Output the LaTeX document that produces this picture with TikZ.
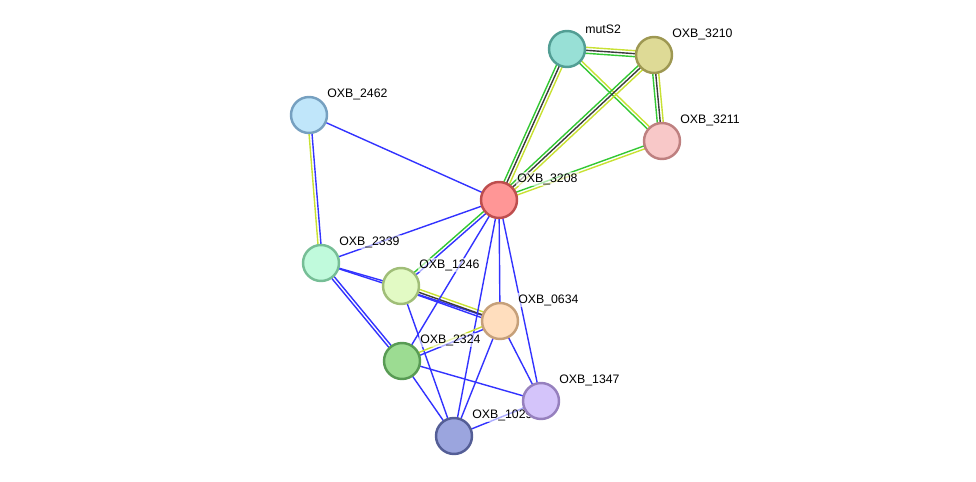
\documentclass[tikz,border=0pt]{standalone}
\usepackage{fontspec}
\setmainfont{Liberation Sans}
\usetikzlibrary{calc,backgrounds}

\definecolor{sblue}{RGB}{51,51,255}
\definecolor{sgreen}{RGB}{51,200,51}
\definecolor{syellow}{RGB}{200,225,50}
\definecolor{sgray}{RGB}{60,60,60}

\definecolor{cmut}{RGB}{152,224,214}   \definecolor{bmut}{RGB}{82,158,148}
\definecolor{c3210}{RGB}{222,218,150}  \definecolor{b3210}{RGB}{158,152,82}
\definecolor{c3211}{RGB}{248,200,200}  \definecolor{b3211}{RGB}{190,128,128}
\definecolor{c2462}{RGB}{192,230,250}  \definecolor{b2462}{RGB}{118,160,192}
\definecolor{c3208}{RGB}{255,150,150}  \definecolor{b3208}{RGB}{190,78,78}
\definecolor{c2339}{RGB}{192,250,220}  \definecolor{b2339}{RGB}{118,190,150}
\definecolor{c1246}{RGB}{226,250,196}  \definecolor{b1246}{RGB}{160,190,120}
\definecolor{c0634}{RGB}{255,222,190}  \definecolor{b0634}{RGB}{198,160,122}
\definecolor{c2324}{RGB}{156,220,146}  \definecolor{b2324}{RGB}{88,155,84}
\definecolor{c1347}{RGB}{212,196,250}  \definecolor{b1347}{RGB}{150,128,190}
\definecolor{c1029}{RGB}{155,165,222}  \definecolor{b1029}{RGB}{84,94,150}

\tikzset{
    prot/.style 2 args={circle, fill=#1, draw=#2, line width=1.4pt,
        minimum size=0.72cm, inner sep=0pt},
    lab/.style={font=\fontsize{7}{8}\selectfont, inner sep=0.8pt, xshift=1.7pt,
        fill=white, fill opacity=0.6, text opacity=1},
    bondline/.style={line width=0.8pt}
}

% one coloured line per evidence channel, shifted sideways
\newcommand{\bond}[3]{%
    \foreach \o/\c in {#3} {
        \draw[bondline, color=\c] ($(#1.center)!\o pt!90:(#2.center)$) -- ($(#2.center)!\o pt!-90:(#1.center)$);
    }}

\begin{document}
\begin{tikzpicture}[x=0.02cm, y=-0.02cm]
    \useasboundingbox (0,0) rectangle (976,482);

    \node[prot={cmut}{bmut},   label={[lab]45:mutS2}]    (mut)   at (567, 49) {};
    \node[prot={c3210}{b3210}, label={[lab]45:OXB\_3210}] (p3210) at (654, 55) {};
    \node[prot={c3211}{b3211}, label={[lab]45:OXB\_3211}] (p3211) at (662, 141) {};
    \node[prot={c2462}{b2462}, label={[lab]45:OXB\_2462}] (p2462) at (309, 115) {};
    \node[prot={c3208}{b3208}, label={[lab]45:OXB\_3208}] (p3208) at (499, 200) {};
    \node[prot={c2339}{b2339}, label={[lab]45:OXB\_2339}] (p2339) at (321, 263) {};
    \node[prot={c1246}{b1246}, label={[lab]45:OXB\_1246}] (p1246) at (401, 286) {};
    \node[prot={c0634}{b0634}, label={[lab]45:OXB\_0634}] (p0634) at (500, 321) {};
    \node[prot={c2324}{b2324}, label={[lab]45:OXB\_2324}] (p2324) at (402, 361) {};
    \node[prot={c1029}{b1029}, label={[lab]45:OXB\_1029}] (p1029) at (454, 436) {};
    \node[prot={c1347}{b1347}, label={[lab]45:OXB\_1347}] (p1347) at (541, 401) {};

    \begin{pgfonlayer}{background}
        \bond{mut}{p3210}{-1.7/sgreen,0/sgray,1.7/syellow}
        \bond{mut}{p3211}{-0.85/sgreen,0.85/syellow}
        \bond{mut}{p3208}{-1.7/sgreen,0/sgray,1.7/syellow}
        \bond{p3210}{p3208}{-1.7/sgreen,0/sgray,1.7/syellow}
        \bond{p3210}{p3211}{-1.7/sgreen,0/sgray,1.7/syellow}
        \bond{p3211}{p3208}{-0.85/sgreen,0.85/syellow}
        \bond{p2462}{p3208}{0/sblue}
        \bond{p2462}{p2339}{-0.85/syellow,0.85/sblue}
        \bond{p2339}{p3208}{0/sblue}
        \bond{p1246}{p3208}{-0.85/sblue,0.85/sgreen}
        \bond{p2339}{p1246}{0/sblue}
        \bond{p2339}{p0634}{0/sblue}
        \bond{p2339}{p2324}{-0.85/sblue,0.85/sblue}
        \bond{p1246}{p0634}{-1.7/sblue,0/sgray,1.7/syellow}
        \bond{p1246}{p1029}{0/sblue}
        \bond{p3208}{p2324}{0/sblue}
        \bond{p3208}{p1029}{0/sblue}
        \bond{p3208}{p0634}{0/sblue}
        \bond{p3208}{p1347}{0/sblue}
        \bond{p0634}{p2324}{-0.85/syellow,0.85/sblue}
        \bond{p0634}{p1029}{0/sblue}
        \bond{p0634}{p1347}{0/sblue}
        \bond{p2324}{p1347}{0/sblue}
        \bond{p2324}{p1029}{0/sblue}
        \bond{p1029}{p1347}{0/sblue}
    \end{pgfonlayer}
\end{tikzpicture}
\end{document}
